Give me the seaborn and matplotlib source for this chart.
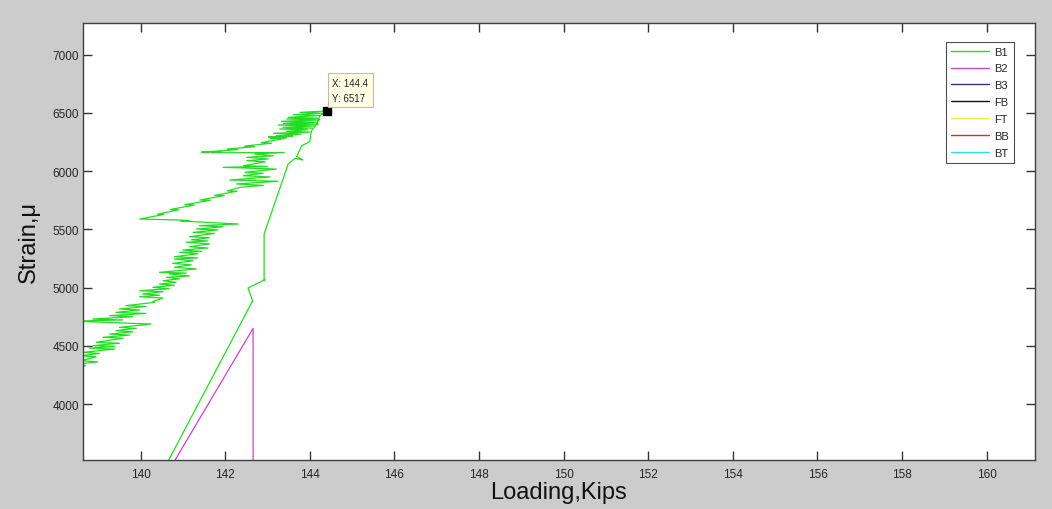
import matplotlib
matplotlib.use("Agg")
import matplotlib.pyplot as plt
from matplotlib.lines import Line2D
import seaborn as sns
import pandas as pd

# ---- data -------------------------------------------------------------
series_names = ["B1", "B2", "B3", "FB", "FT", "BB", "BT"]
series_colors = ["#22dd22", "#cc44cc", "#333388", "#111111", "#eeee44", "#cc3333", "#33dddd"]

# B1: loading rise, then the noisy unloading trace back down
load_b1 = [
    140.45, 140.67, 142.65, 142.54, 142.94, 142.92, 142.92, 143.49, 143.65, 143.84,
    143.69, 143.81, 144.00, 144.04, 144.17, 144.24, 144.40,
    143.77, 144.28, 143.61, 144.24, 143.49, 144.20, 143.45, 144.24, 143.33, 144.16,
    143.37, 144.20, 143.25, 144.10, 143.37, 144.05, 143.29, 143.95, 143.45, 144.00,
    143.14, 143.80, 143.21, 143.60,
    143.02, 143.45, 143.06, 143.40,
    142.85, 143.10, 142.45, 142.70, 142.05, 142.30, 141.44,
    141.91, 141.68, 141.95, 143.40,
    142.70, 143.14, 142.51, 143.02, 142.51, 142.95, 142.43, 143.00, 141.95, 143.21,
    142.47, 142.90, 142.43, 143.06, 142.11, 143.25, 142.27, 142.90, 142.35,
    142.05, 142.28, 141.75, 141.98, 141.40, 141.65, 141.05, 141.28, 140.70, 140.90,
    140.40, 140.55, 139.98,
    140.95, 141.15, 140.95, 142.31,
    141.39, 141.95, 141.32, 141.83, 141.24, 141.75, 141.16, 141.63, 141.20, 141.59,
    141.08, 141.63, 141.16, 141.59, 141.00, 141.45, 140.92, 141.35, 140.80, 141.35,
    140.80, 141.24, 140.76, 141.20, 140.80, 141.32, 140.45, 141.08, 140.68, 141.16,
    140.61, 140.92, 140.53, 140.84, 140.45, 140.80, 140.29, 140.68, 139.98, 140.53,
    140.05, 140.45, 139.98, 140.53, 140.29, 140.33, 139.66, 140.13, 139.50, 139.98,
    139.42, 140.13, 139.27, 139.82, 138.87, 139.58,
    138.40, 140.25,
    139.50, 139.90, 139.42, 139.82, 139.27, 139.74, 139.11, 139.58, 138.95, 139.50,
    138.87, 139.39, 138.79, 139.39, 138.64, 139.03, 138.60, 138.95, 138.60, 138.99,
    138.55, 138.70, 138.40,
]
strain_b1 = [
    3405, 3522, 4887, 4996, 5068, 5059, 5460, 6061, 6110, 6096,
    6127, 6219, 6253, 6347, 6405, 6476, 6517,
    6505, 6498, 6485, 6478, 6462, 6455, 6448, 6440, 6428, 6420,
    6411, 6404, 6396, 6388, 6376, 6370, 6362, 6355, 6342, 6335,
    6325, 6318, 6305, 6300,
    6292, 6288, 6284, 6280,
    6245, 6240, 6215, 6210, 6190, 6185, 6163,
    6166, 6160, 6158, 6160,
    6147, 6132, 6119, 6105, 6090, 6080, 6047, 6040, 6033, 6018,
    5990, 5982, 5961, 5950, 5924, 5913, 5890, 5878, 5861,
    5830, 5828, 5792, 5790, 5752, 5750, 5712, 5710, 5670, 5668,
    5630, 5628, 5589,
    5580, 5574, 5572, 5546,
    5532, 5522, 5503, 5495, 5474, 5465, 5437, 5428, 5410, 5400,
    5389, 5375, 5351, 5340, 5323, 5310, 5303, 5290, 5265, 5255,
    5245, 5230, 5208, 5195, 5174, 5160, 5131, 5125, 5117, 5100,
    5088, 5075, 5059, 5045, 5031, 5020, 5002, 4990, 4973, 4965,
    4945, 4935, 4922, 4910, 4880, 4873, 4845, 4838, 4816, 4808,
    4787, 4778, 4759, 4750, 4730, 4722,
    4712, 4687,
    4658, 4650, 4630, 4620, 4601, 4592, 4573, 4565, 4530, 4522,
    4501, 4495, 4480, 4472, 4444, 4435, 4415, 4405, 4372, 4362,
    4344, 4330, 4300,
]

# B2: rise then sudden drop
load_b2 = [140.50, 142.66, 142.66]
strain_b2 = [3325, 4650, 3300]

# data tip on B1
tip_load = 144.4
tip_strain = 6517

x_ticks = [140, 142, 144, 146, 148, 150, 152, 154, 156, 158, 160]
y_ticks = [4000, 4500, 5000, 5500, 6000, 6500, 7000]

# ---- figure -----------------------------------------------------------
sns.set_style("ticks")
plt.rcParams["font.family"] = ["Liberation Sans", "DejaVu Sans"]

fig = plt.figure(figsize=(10.52, 5.10), dpi=100, facecolor="#cccccc")
ax = fig.add_axes([0.0789, 0.0967, 0.9049, 0.8557])
ax.set_facecolor("white")

frames = [
    pd.DataFrame({"load": load_b1, "strain": strain_b1, "series": "B1"}),
    pd.DataFrame({"load": load_b2, "strain": strain_b2, "series": "B2"}),
]
df = pd.concat(frames, ignore_index=True)
palette = dict(zip(series_names, series_colors))

sns.lineplot(data=df, x="load", y="strain", hue="series", palette=palette,
             sort=False, estimator=None, lw=0.9, legend=False, ax=ax)

ax.set_xlim(138.64, 161.14)
ax.set_ylim(3522, 7270)
ax.set_xticks(x_ticks)
ax.set_yticks(y_ticks)
ax.tick_params(direction="in", length=6.5, width=1, color="#333333",
               labelsize=8.5, labelcolor="#262626", top=True, right=True)
ax.tick_params(axis="x", pad=6)
ax.tick_params(axis="y", pad=3)
for sp in ax.spines.values():
    sp.set_color("#404040")
    sp.set_linewidth(1.0)

ax.set_xlabel("Loading,Kips", fontsize=17, color="#111111", labelpad=1)
ax.set_ylabel("Strain,\u03bc", fontsize=17, color="#111111", labelpad=9)

# data tip
ax.plot([tip_load], [tip_strain], marker="s", ms=6, color="black", ls="none")
ax.annotate(f"X: {tip_load}\nY: {tip_strain}", xy=(tip_load, tip_strain),
            xytext=(4, 6), textcoords="offset points", fontsize=7,
            color="#222222", ha="left", va="bottom", linespacing=1.6,
            bbox=dict(boxstyle="square,pad=0.45", fc="#ffffe6", ec="#bdbdaa", lw=0.8))

# legend with every channel
handles = [Line2D([], [], color=c, lw=1.0) for c in series_colors]
leg = ax.legend(handles, series_names, loc="upper right",
                bbox_to_anchor=(0.978, 0.958), borderaxespad=0, fontsize=8,
                frameon=True, fancybox=False, edgecolor="#222222",
                handlelength=3.4, handletextpad=0.5, labelspacing=0.62,
                borderpad=0.45)
leg.get_frame().set_linewidth(0.8)

fig.savefig("out.png", dpi=100, facecolor=fig.get_facecolor())
